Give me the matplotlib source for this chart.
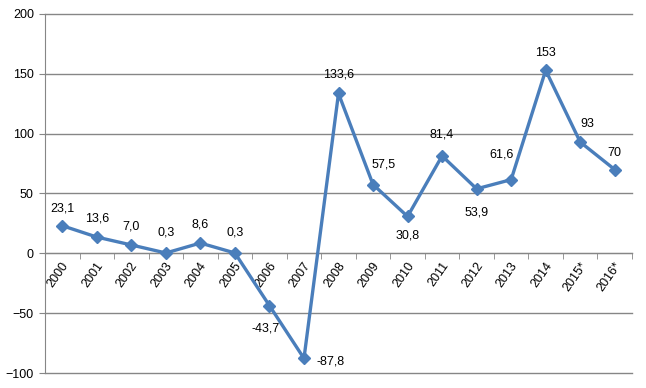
import matplotlib.pyplot as plt
import matplotlib.transforms as mtransforms
import numpy as np

years = ['2000', '2001', '2002', '2003', '2004', '2005', '2006', '2007', '2008',
         '2009', '2010', '2011', '2012', '2013', '2014', '2015*', '2016*']
values = [23.1, 13.6, 7.0, 0.3, 8.6, 0.3, -43.7, -87.8, 133.6,
          57.5, 30.8, 81.4, 53.9, 61.6, 153, 93, 70]
labels = ['23,1', '13,6', '7,0', '0,3', '8,6', '0,3', '-43,7', '-87,8', '133,6',
          '57,5', '30,8', '81,4', '53,9', '61,6', '153', '93', '70']

# label offsets in pixels, picked by eye from the reference
offsets = [(0, 17), (0, 19), (0, 18), (0, 20), (0, 19), (0, 20), (-4, -23), (27, -3), (0, 19),
           (11, 20), (0, -19), (0, 21), (0, -24), (-10, 25), (0, 17), (7, 18), (0, 17)]

plt.rcParams['font.family'] = ['Liberation Sans', 'DejaVu Sans']
color = '#4a7ebb'
grid = '#868686'

fig = plt.figure(figsize=(6.46, 3.88), dpi=100)
ax = fig.add_axes([45/646, 1 - 373/388, (632 - 45)/646, (373 - 14)/388])

x = np.arange(len(years))
ax.plot(x, values, color=color, lw=2.4, marker='D', ms=6.5, mec=color, mfc=color, zorder=3,
        clip_on=False)

for xi, v, lab, (dx, dy) in zip(x, values, labels, offsets):
    ax.annotate(lab, (xi, v), xytext=(dx, dy), textcoords='offset pixels',
                ha='center', va='center', fontsize=9, color='black')

ax.set_xlim(-0.5, len(years) - 0.5)
ax.set_ylim(-100, 200)
ax.set_yticks(np.arange(-100, 201, 50))
ax.yaxis.grid(True, color=grid, lw=1, clip_on=False)
ax.set_axisbelow(True)

for s in ['top', 'right']:
    ax.spines[s].set_visible(False)
ax.spines['left'].set_color(grid)
ax.spines['bottom'].set_position(('data', 0))
ax.spines['bottom'].set_color(grid)

ax.tick_params(axis='y', color=grid, length=4, labelsize=9, pad=4)
ax.set_xticks(x + 0.5, minor=True)
ax.tick_params(axis='x', which='minor', direction='out', length=4, color=grid)
ax.set_xticks(x)
ax.set_xticklabels(years, rotation=55, ha='right', rotation_mode='anchor', fontsize=9)
ax.tick_params(axis='x', which='major', length=0, pad=7)
shift = mtransforms.ScaledTranslation(4 / 100, 0, fig.dpi_scale_trans)
for t in ax.get_xticklabels():
    t.set_va('center')
    t.set_transform(t.get_transform() + shift)

fig.savefig('out.png', dpi=100)
